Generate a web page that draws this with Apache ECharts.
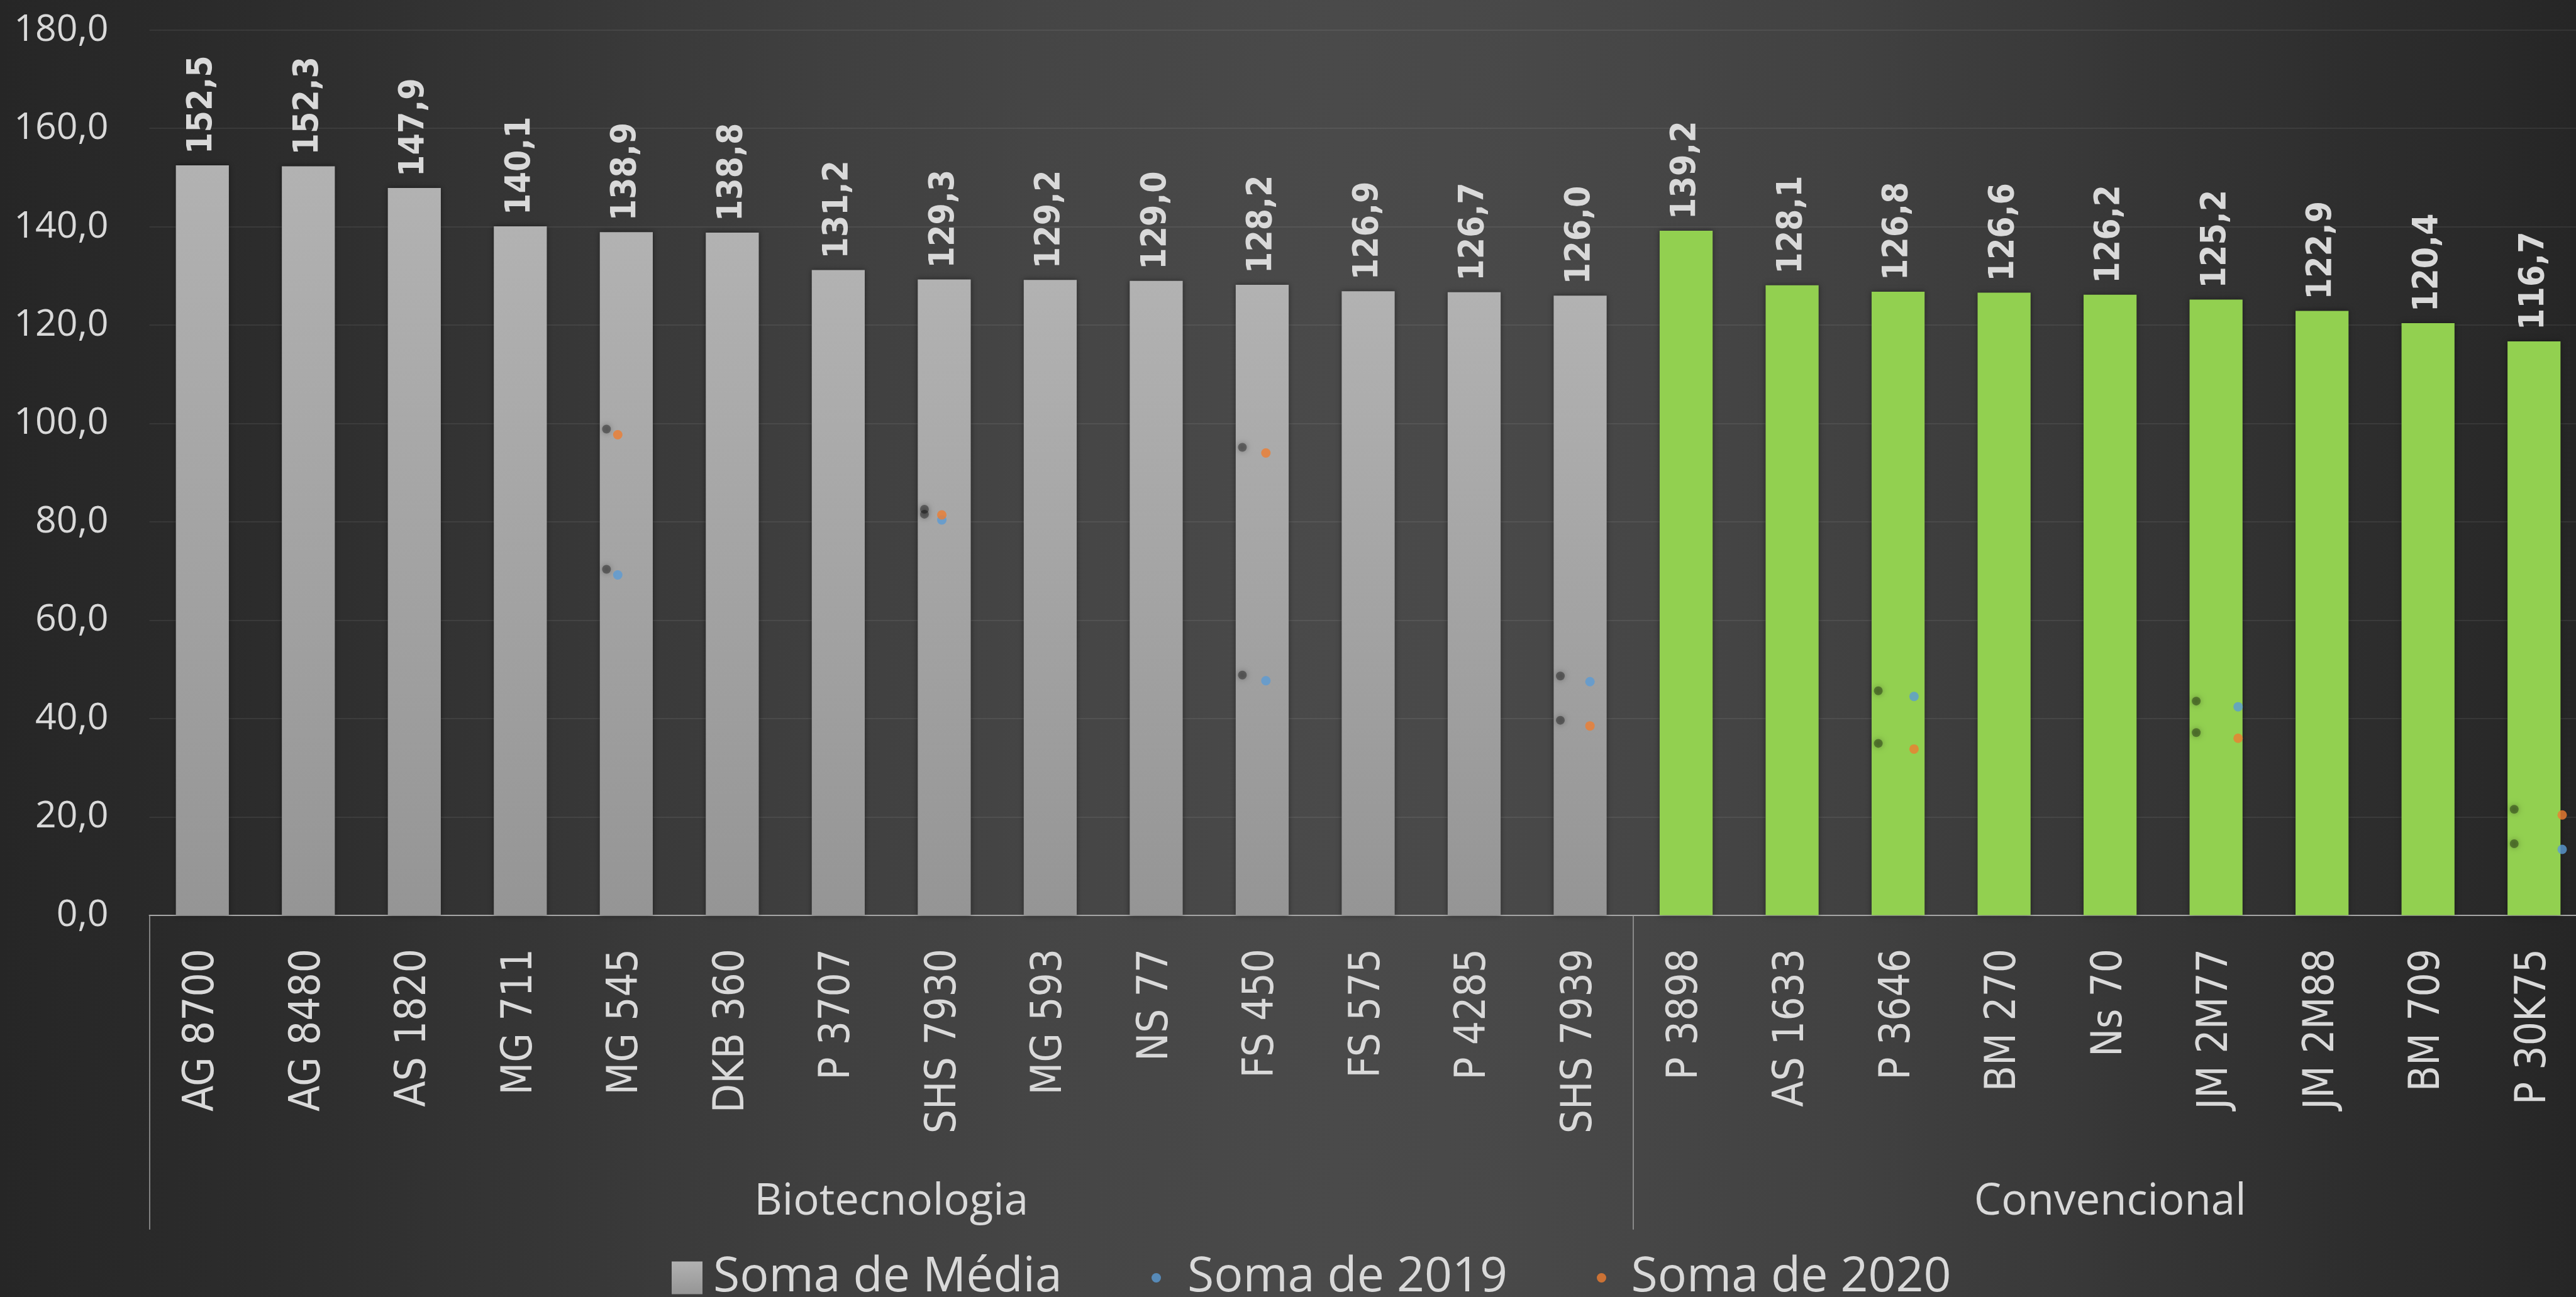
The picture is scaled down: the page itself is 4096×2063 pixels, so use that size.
<!DOCTYPE html>
<html>
<head>
<meta charset="utf-8">
<script src="https://cdn.jsdelivr.net/npm/echarts/dist/echarts.min.js"></script>
<style>
  html, body { margin: 0; padding: 0; }
  #chart {
    width: 4096px;
    height: 2063px;
    background: linear-gradient(90deg, #262626 0%, #2c2c2c 10%, #353535 20%, #3e3e3e 30%, #454545 40%, #4a4a4a 52%, #484848 60%, #424242 71%, #383838 81%, #2e2e2e 91%, #262626 100%);
  }
</style>
</head>
<body>
<div id="chart"></div>
<script>
// hybrids per group
const bioCategories = ["AG 8700", "AG 8480", "AS 1820", "MG 711", "MG 545", "DKB 360", "P 3707",
  "SHS 7930", "MG 593", "NS 77", "FS 450", "FS 575", "P 4285", "SHS 7939"];
const convCategories = ["P 3898", "AS 1633", "P 3646", "BM 270", "Ns 70", "JM 2M77", "JM 2M88", "BM 709", "P 30K75"];
const groupNames = ["Biotecnologia", "Convencional"];

// Soma de Média
const bioMedia = [152.5, 152.3, 147.9, 140.1, 138.9, 138.8, 131.2, 129.3, 129.2, 129.0, 128.2, 126.9, 126.7, 126.0];
const convMedia = [139.2, 128.1, 126.8, 126.6, 126.2, 125.2, 122.9, 120.4, 116.7];

// Soma de 2019 / 2020 (only some hybrids)
const soma2019 = [null, null, null, null, 69.2, null, null, 80.4, null, null, 47.7, null, null, 47.5,
  null, null, 44.5, null, null, 42.4, null, null, 13.4];
const soma2020 = [null, null, null, null, 97.7, null, null, 81.4, null, null, 94.0, null, null, 38.5,
  null, null, 33.8, null, null, 36.0, null, null, 20.4];

const categories = bioCategories.concat(convCategories);
const media = bioMedia.concat(convMedia);
const nBio = bioCategories.length;
const nAll = categories.length;

const txt = "#d9d9d9";
const fmt = (v) => Number(v).toFixed(1).replace(".", ",");
const grayGrad = new echarts.graphic.LinearGradient(0, 0, 0, 1, [
  { offset: 0, color: "#b2b2b2" },
  { offset: 1, color: "#959595" },
]);
const green = "#92d050";
const blue = "#5b9bd5";
const orange = "#ed7d31";

const toXY = (arr) => arr.map((v, i) => (v == null ? null : [i, v])).filter(Boolean);

const chart = echarts.init(document.getElementById("chart"));
const legendText = { color: txt, fontFamily: "Open Sans", fontSize: 77 };
const legendTop = 1994;

chart.setOption({
  animation: false,
  backgroundColor: "transparent",
  grid: { left: 237.5, top: 47.8, width: 3876, height: 1408, containLabel: false, outerBoundsMode: "none" },
  legend: [
    {
      data: [{ name: "Soma de Média", icon: "rect", itemStyle: { color: grayGrad } }],
      left: 1068, top: legendTop, padding: 0, itemWidth: 49, itemHeight: 52,
      textStyle: Object.assign({ padding: [0, 0, 0, 12] }, legendText),
    },
    {
      data: [{ name: "Soma de 2019", icon: "circle" }],
      left: 1831, top: legendTop, padding: 0, itemWidth: 89, itemHeight: 15,
      textStyle: legendText,
    },
    {
      data: [{ name: "Soma de 2020", icon: "circle" }],
      left: 2539, top: legendTop, padding: 0, itemWidth: 84, itemHeight: 15,
      textStyle: legendText,
    },
  ],
  xAxis: [
    {
      type: "category",
      data: categories,
      position: "bottom",
      axisLine: { lineStyle: { color: "#a6a6a6", width: 2 } },
      axisTick: { show: false },
      axisLabel: {
        interval: 0,
        rotate: 90,
        margin: 53,
        color: txt,
        fontFamily: "'DejaVu Sans Condensed', 'DejaVu Sans'",
        fontSize: 67,
      },
      splitLine: { show: false },
    },
    {
      // points of 2019 / 2020 sit on their own (secondary) scale
      type: "value",
      min: -0.336,
      max: 22.23,
      position: "top",
      show: false,
    },
    {
      // group level of the category axis
      type: "value",
      min: 0,
      max: nAll,
      position: "bottom",
      axisLine: { show: false },
      axisTick: {
        show: true,
        customValues: [0, nBio, nAll],
        length: 500,
        lineStyle: { color: "#a0a0a0", width: 1.5 },
      },
      axisLabel: {
        customValues: [nBio / 2, nBio + (nAll - nBio) / 2],
        formatter: (v) => (v < nBio ? groupNames[0] : groupNames[1]),
        margin: 457,
        verticalAlign: "middle",
        color: txt,
        fontFamily: "Open Sans",
        fontSize: 69,
      },
      splitLine: { show: false },
    },
  ],
  yAxis: {
    type: "value",
    min: 0,
    max: 180,
    interval: 20,
    axisLine: { show: false },
    axisTick: { show: false },
    axisLabel: { formatter: fmt, color: txt, fontFamily: "Open Sans", fontSize: 59, margin: 65 },
    splitLine: { lineStyle: { color: "rgba(255,255,255,0.09)", width: 1.5 } },
  },
  series: [
    {
      name: "Soma de Média",
      type: "bar",
      data: media,
      barWidth: "50%",
      itemStyle: {
        color: (p) => (p.dataIndex < nBio ? grayGrad : green),
        shadowColor: "rgba(0,0,0,0.45)",
        shadowBlur: 8,
      },
      label: {
        show: true,
        position: "top",
        rotate: 90,
        align: "left",
        verticalAlign: "middle",
        distance: 18,
        formatter: (p) => fmt(p.value),
        color: txt,
        fontFamily: "'DejaVu Sans Condensed', 'DejaVu Sans'",
        fontWeight: "bold",
        fontSize: 55,
      },
      z: 2,
    },
    {
      name: "sombra 2019",
      type: "scatter",
      data: soma2019,
      symbolSize: 14,
      symbolOffset: [-31.5, -9],
      itemStyle: { color: "rgba(0,0,0,0.45)", shadowColor: "rgba(0,0,0,0.8)", shadowBlur: 10 },
      z: 3,
    },
    {
      name: "sombra 2020",
      type: "scatter",
      data: soma2020,
      symbolSize: 14,
      symbolOffset: [-31.5, -9],
      itemStyle: { color: "rgba(0,0,0,0.45)", shadowColor: "rgba(0,0,0,0.8)", shadowBlur: 10 },
      z: 3,
    },
    {
      name: "Soma de 2019",
      type: "scatter",
      xAxisIndex: 1,
      data: toXY(soma2019),
      symbolSize: 15,
      itemStyle: { color: blue },
      z: 4,
    },
    {
      name: "Soma de 2020",
      type: "scatter",
      xAxisIndex: 1,
      data: toXY(soma2020),
      symbolSize: 15,
      itemStyle: { color: orange },
      z: 4,
    },
  ],
});
</script>
</body>
</html>
